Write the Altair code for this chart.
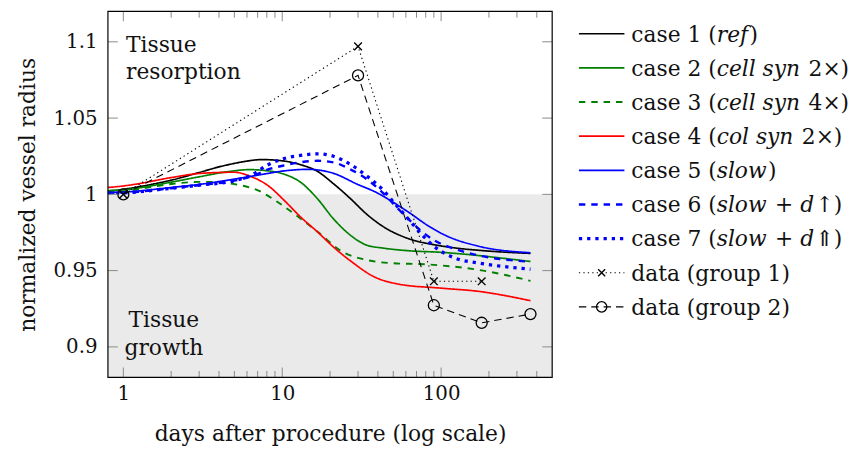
import altair as alt
import pandas as pd

# ---------------- data ----------------
case_keys = ["c1", "c2", "c3", "c4", "c5", "c6", "c7"]

c1_days = [0.8, 1, 1.5, 2, 3, 4, 5, 6, 7.4, 10, 13, 16.7, 21, 27, 34, 43, 63, 90, 124, 200, 365]
c1_vals = [1.002, 1.0033, 1.0065, 1.0093, 1.0143, 1.018, 1.0203, 1.0218, 1.0228, 1.022, 1.0195, 1.015,
           1.007, 0.997, 0.987, 0.979, 0.9708, 0.967, 0.9648, 0.9628, 0.9613]

c2_days = [0.8, 1, 2, 3, 4.5, 6.2, 8, 10.3, 13.1, 16.7, 21, 26.8, 34, 43, 63, 100, 150, 250, 365]
c2_vals = [1.0025, 1.003, 1.008, 1.0115, 1.0148, 1.0162, 1.0155, 1.0132, 1.0078, 0.997, 0.984,
           0.9733, 0.9667, 0.9648, 0.963, 0.962, 0.9605, 0.958, 0.956]

c3_days = [0.8, 1, 2, 3, 4, 5, 7.1, 9.4, 13.1, 16.7, 24, 34, 47, 84, 172, 365]
c3_vals = [1.0012, 1.002, 1.0068, 1.0082, 1.008, 1.0067, 1.0024, 0.9948, 0.984, 0.9755, 0.9623,
           0.957, 0.955, 0.954, 0.9505, 0.9433]

c4_days = [0.8, 1, 1.2, 2, 3.1, 5, 6.4, 7.4, 8.2, 10.3, 13.1, 16.7, 21, 28, 37, 55, 100, 172, 365]
c4_vals = [1.0045, 1.0055, 1.0067, 1.011, 1.0138, 1.0145, 1.0115, 1.0085, 1.0055, 0.996, 0.985,
           0.9753, 0.9655, 0.955, 0.9465, 0.941, 0.9385, 0.9364, 0.9303]

c5_days = [0.8, 1, 2, 3, 5, 7.4, 10.3, 14.5, 21, 29.6, 39, 49.6, 63, 84, 107, 172, 365]
c5_vals = [1.0012, 1.0015, 1.0045, 1.0065, 1.010, 1.013, 1.0154, 1.0164, 1.0138, 1.0067, 1.0013,
           0.995, 0.988, 0.979, 0.973, 0.966, 0.9617]

c6_days = [0.8, 1, 2, 3, 5, 6.5, 8, 10.3, 13, 16.7, 21, 26.8, 34, 43, 52, 62, 75, 90, 124, 172, 365]
c6_vals = [1.0008, 1.001, 1.004, 1.006, 1.009, 1.012, 1.016, 1.019, 1.021, 1.022, 1.021, 1.0164,
           1.010, 1.001, 0.992, 0.984, 0.976, 0.970, 0.964, 0.960, 0.9558]

c7_days = [0.8, 1, 2, 3, 5, 6.5, 8, 10.3, 13, 16.7, 21, 26.8, 34, 43, 52, 62, 75, 90, 124, 172, 365]
c7_vals = [1.0008, 1.001, 1.004, 1.006, 1.009, 1.013, 1.019, 1.0235, 1.0255, 1.0266, 1.025, 1.0197,
           1.0121, 1.003, 0.993, 0.984, 0.974, 0.966, 0.958, 0.955, 0.951]

g1_days = [1, 30, 90, 180]
g1_vals = [1.0, 1.097, 0.943, 0.943]
g2_days = [1, 30, 90, 180, 365]
g2_vals = [1.0, 1.078, 0.9273, 0.9158, 0.9215]

x_major = [1, 10, 100]
x_minor = [2, 3, 4, 5, 6, 7, 8, 9, 20, 30, 40, 50, 60, 70, 80, 90, 200, 300, 400]
y_ticks = [0.9, 0.95, 1.0, 1.05, 1.1]

legend_rows = [
    [("case 1 (", 0), ("ref", 1), (")", 0)],
    [("case 2 (", 0), ("cell syn", 1), (" 2×)", 0)],
    [("case 3 (", 0), ("cell syn", 1), (" 4×)", 0)],
    [("case 4 (", 0), ("col syn", 1), (" 2×)", 0)],
    [("case 5 (", 0), ("slow", 1), (")", 0)],
    [("case 6 (", 0), ("slow", 1), (" + ", 0), ("d", 1), ("↑)", 0)],
    [("case 7 (", 0), ("slow", 1), (" + ", 0), ("d", 1), ("⇑)", 0)],
    [("data (group 1)", 0)],
    [("data (group 2)", 0)],
]
legend_keys = ["c1", "c2", "c3", "c4", "c5", "c6", "c7", "g1", "g2"]

# ---------------- styles ----------------
GREEN = "#008000"
style = {
    "c1": dict(color="black", dash=[1, 0], width=1.7),
    "c2": dict(color=GREEN, dash=[1, 0], width=1.7),
    "c3": dict(color=GREEN, dash=[6.5, 6], width=1.9),
    "c4": dict(color="#ff0000", dash=[1, 0], width=1.7),
    "c5": dict(color="#0000ff", dash=[1, 0], width=1.7),
    "c6": dict(color="#0000ff", dash=[6.5, 6], width=2.4),
    "c7": dict(color="#0000ff", dash=[3.3, 5], width=3.3),
    "g1": dict(color="black", dash=[1.3, 3.2], width=1.1),
    "g2": dict(color="black", dash=[7.5, 5], width=1.1),
}

FONT = "DejaVu Serif"
FS = 22
W, H = 449, 370
LW = 270

xs = alt.Scale(type="log", domain=[0.8, 500], nice=False)
ys = alt.Scale(domain=[0.88, 1.12], nice=False, zero=False)

x_axis = alt.Axis(values=x_major, format="~g", title="days after procedure (log scale)",
                  ticks=False, tickSize=0, domain=False, grid=False, labelPadding=6, titlePadding=21)
y_axis = alt.Axis(values=y_ticks, format="~g", title="normalized vessel radius",
                  ticks=False, tickSize=0, domain=False, grid=False, labelPadding=11, titlePadding=14)


def X(f):
    return alt.X(f, scale=xs, axis=x_axis)


def Y(f):
    return alt.Y(f, scale=ys, axis=y_axis)


case_days = [c1_days, c2_days, c3_days, c4_days, c5_days, c6_days, c7_days]
case_vals = [c1_vals, c2_vals, c3_vals, c4_vals, c5_vals, c6_vals, c7_vals]

# ---------------- main plot ----------------
shade = alt.Chart(pd.DataFrame({"day": [0.8], "day2": [500], "value": [0.88], "value2": [1.0]})).mark_rect(
    color="#eaeaea"
).encode(x=X("day:Q"), x2="day2:Q", y=Y("value:Q"), y2="value2:Q")

layers = [shade]
for k, d, v in zip(case_keys, case_days, case_vals):
    s = style[k]
    df = pd.DataFrame({"day": d, "value": v})
    layers.append(
        alt.Chart(df).mark_line(color=s["color"], strokeDash=s["dash"], strokeWidth=s["width"],
                                interpolate="monotone").encode(x=X("day:Q"), y=Y("value:Q"))
    )

for k, d, v in [("g1", g1_days, g1_vals), ("g2", g2_days, g2_vals)]:
    s = style[k]
    df = pd.DataFrame({"day": d, "value": v})
    layers.append(
        alt.Chart(df).mark_line(color=s["color"], strokeDash=s["dash"], strokeWidth=s["width"]).encode(
            x=X("day:Q"), y=Y("value:Q"))
    )

layers.append(
    alt.Chart(pd.DataFrame({"day": g1_days, "value": g1_vals})).mark_point(
        shape="M-1,-1L1,1M1,-1L-1,1", size=60, stroke="black", strokeWidth=1.4, filled=False, opacity=1
    ).encode(x=X("day:Q"), y=Y("value:Q"))
)
layers.append(
    alt.Chart(pd.DataFrame({"day": g2_days, "value": g2_vals})).mark_point(
        shape="circle", size=125, stroke="black", strokeWidth=1.3, filled=False, opacity=1
    ).encode(x=X("day:Q"), y=Y("value:Q"))
)

# annotations
ann_top = pd.DataFrame({"day": [1.04], "value": [1.0935], "t": ["Tissue\nresorption"]})
ann_bot = pd.DataFrame({"day": [1.80], "value": [0.913], "t": ["Tissue\ngrowth"]})
layers.append(alt.Chart(ann_top).mark_text(font=FONT, fontSize=FS, align="left", baseline="alphabetic",
                                           lineBreak="\n", lineHeight=28, color="#111").encode(
    x=X("day:Q"), y=Y("value:Q"), text="t:N"))
layers.append(alt.Chart(ann_bot).mark_text(font=FONT, fontSize=FS, align="center", baseline="alphabetic",
                                           lineBreak="\n", lineHeight=28, color="#111").encode(
    x=X("day:Q"), y=Y("value:Q"), text="t:N"))

# inward ticks
TICKC = "#8a8a8a"
for vals, ln in [(x_major, 10), (x_minor, 6.5)]:
    dft = pd.DataFrame({"day": vals})
    layers.append(alt.Chart(dft).mark_rule(color=TICKC, strokeWidth=1).encode(
        x=X("day:Q"), y=alt.value(H), y2=alt.value(H - ln)))
    layers.append(alt.Chart(dft).mark_rule(color=TICKC, strokeWidth=1).encode(
        x=X("day:Q"), y=alt.value(0), y2=alt.value(ln)))
dfy = pd.DataFrame({"value": y_ticks})
layers.append(alt.Chart(dfy).mark_rule(color=TICKC, strokeWidth=1).encode(
    y=Y("value:Q"), x=alt.value(0), x2=alt.value(10)))
layers.append(alt.Chart(dfy).mark_rule(color=TICKC, strokeWidth=1).encode(
    y=Y("value:Q"), x=alt.value(W - 10), x2=alt.value(W)))

# frame
layers.append(alt.Chart(pd.DataFrame({"a": [0]})).mark_rect(
    fill="transparent", stroke="black", strokeWidth=1.2).encode(
    x=alt.value(0), x2=alt.value(W), y=alt.value(0), y2=alt.value(H)))

main = alt.layer(*layers).properties(width=W, height=H)

# ---------------- legend ----------------
REG = {' ': .318, '(': .390, ')': .390, '+': .838, '×': .838, 'a': .596, 'c': .560, 'd': .640,
       'e': .592, 'g': .640, 'l': .320, 'n': .644, 'o': .602, 'p': .640, 'r': .478, 's': .513,
       't': .402, 'u': .644, 'w': .856, 'y': .565, 'f': .370}
ITA = dict(REG)


def tw(s, tab):
    return sum(tab.get(ch, 0.636) for ch in s) * FS


lx = alt.Scale(domain=[0, LW], nice=False, zero=False)
ly = alt.Scale(domain=[-0.658, 10.067], nice=False, zero=False, reverse=True)

leg_layers = []
for i, k in enumerate(legend_keys):
    s = style[k]
    dfl = pd.DataFrame({"x0": [0], "x1": [46], "i": [i]})
    leg_layers.append(alt.Chart(dfl).mark_rule(color=s["color"], strokeDash=s["dash"], strokeWidth=s["width"]).encode(
        x=alt.X("x0:Q", scale=lx, axis=None), x2="x1:Q", y=alt.Y("i:Q", scale=ly, axis=None)))

dfm1 = pd.DataFrame({"x": [23], "i": [7]})
leg_layers.append(alt.Chart(dfm1).mark_point(shape="M-1,-1L1,1M1,-1L-1,1", size=50, stroke="black",
                                             strokeWidth=1.4, filled=False, opacity=1).encode(
    x=alt.X("x:Q", scale=lx, axis=None), y=alt.Y("i:Q", scale=ly, axis=None)))
dfm2 = pd.DataFrame({"x": [23], "i": [8]})
leg_layers.append(alt.Chart(dfm2).mark_point(shape="circle", size=110, stroke="black",
                                             strokeWidth=1.3, filled=False, opacity=1).encode(
    x=alt.X("x:Q", scale=lx, axis=None), y=alt.Y("i:Q", scale=ly, axis=None)))

rows = []
for i, pieces in enumerate(legend_rows):
    xpos = 53.0
    for txt, it in pieces:
        tab = ITA if it else REG
        lead = len(txt) - len(txt.lstrip(" "))
        core = txt.strip(" ")
        trail = len(txt) - len(txt.rstrip(" "))
        xpos += lead * tab[' '] * FS
        rows.append({"x": xpos, "i": i, "t": core, "it": it})
        xpos += tw(core, tab) + trail * tab[' '] * FS + (1.5 if it else 0)
dft = pd.DataFrame(rows)
for it, fstyle in [(0, "normal"), (1, "italic")]:
    leg_layers.append(alt.Chart(dft[dft["it"] == it]).mark_text(
        font=FONT, fontSize=FS, fontStyle=fstyle, align="left", baseline="middle", color="#111", dy=1).encode(
        x=alt.X("x:Q", scale=lx, axis=None), y=alt.Y("i:Q", scale=ly, axis=None), text="t:N"))

legend = alt.layer(*leg_layers).properties(width=LW, height=H)

chart = alt.hconcat(main, legend, spacing=24).properties(
    padding={"left": 8, "top": 0, "right": 0, "bottom": 0}
).configure_view(stroke=None).configure_axis(
    labelFont=FONT, labelFontSize=20, labelColor="#111", titleFont=FONT, titleFontSize=FS,
    titleColor="#111", titleFontWeight="normal"
)

chart.save("out.html", embed_options={"renderer": "svg", "actions": False})
